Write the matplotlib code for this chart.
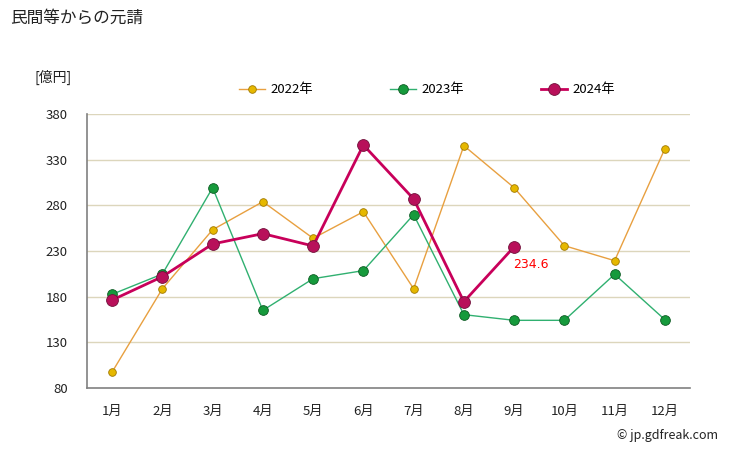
import matplotlib
matplotlib.use("Agg")
import matplotlib.pyplot as plt

plt.rcParams['font.family'] = ['Noto Sans CJK JP', 'DejaVu Sans']

months = ['1月', '2月', '3月', '4月', '5月', '6月', '7月', '8月', '9月', '10月', '11月', '12月']
v2022 = [97.5, 188.7, 253.3, 284.0, 243.9, 273.0, 188.7, 345.3, 299.3, 235.8, 219.4, 342.0]
v2023 = [182.6, 204.8, 299.3, 165.0, 199.7, 208.5, 269.8, 160.3, 154.1, 154.1, 204.5, 154.8]
v2024 = [176.3, 201.9, 237.7, 249.0, 235.5, 346.1, 287.0, 174.5, 234.6]
yticks = [80, 130, 180, 230, 280, 330, 380]
series_names = ['2022年', '2023年', '2024年']

fig = plt.figure(figsize=(7.29, 4.51), dpi=100)
ax = fig.add_axes([87/729, 1-388/451, 603/729, 274/451])

x = list(range(len(months)))
ax.set_xlim(-0.5, len(months) - 0.5)
ax.set_ylim(80, 380)

for yv in yticks[1:]:
    ax.axhline(yv, color='#dcd6bc', lw=1, zorder=0)

ax.plot(x, v2022, color='#e8a040', lw=1, marker='o', ms=5.5,
        mfc='#e6b800', mec='#a07800', mew=0.6, zorder=3, label=series_names[0])
ax.plot(x, v2023, color='#30b070', lw=1, marker='o', ms=7,
        mfc='#169a3c', mec='#0c5a22', mew=0.6, zorder=4, label=series_names[1])
ax.plot(x[:len(v2024)], v2024, color='#c8005a', lw=2, marker='o', ms=8.5,
        mfc='#b8105a', mec='#70103a', mew=0.6, zorder=5, label=series_names[2])

ax.annotate(f'{v2024[-1]}', (x[len(v2024)-1], v2024[-1]), xytext=(-1, -8),
            textcoords='offset points', ha='left', va='top', color='#ff0000', fontsize=9,
            family=['DejaVu Sans'])

ax.set_yticks(yticks)
ax.set_xticks(x)
ax.set_xticklabels(months)
ax.tick_params(axis='both', length=0, labelsize=9.5, colors='#222222')
ax.tick_params(axis='y', pad=14)
ax.tick_params(axis='x', pad=12)

for s in ['top', 'right']:
    ax.spines[s].set_visible(False)
for s in ['left', 'bottom']:
    ax.spines[s].set_color('#808080')
    ax.spines[s].set_linewidth(1.2)

handles, labels = ax.get_legend_handles_labels()
fig.legend(handles, labels, loc='center', bbox_to_anchor=(427/729, 1-90/451), ncol=3,
           frameon=False, fontsize=9.5, columnspacing=5.8, handlelength=2.0,
           handletextpad=0.4)

fig.text(10/729, 1-18/451, '民間等からの元請', fontsize=12, ha='left', va='center', color='#222222')
fig.text(34/729, 1-77/451, '[億円]', fontsize=10, ha='left', va='center', color='#222222')
fig.text(718/729, 1-436/451, '© jp.gdfreak.com', fontsize=9, ha='right', va='center', color='#222222')

fig.savefig('out.png', dpi=100)
